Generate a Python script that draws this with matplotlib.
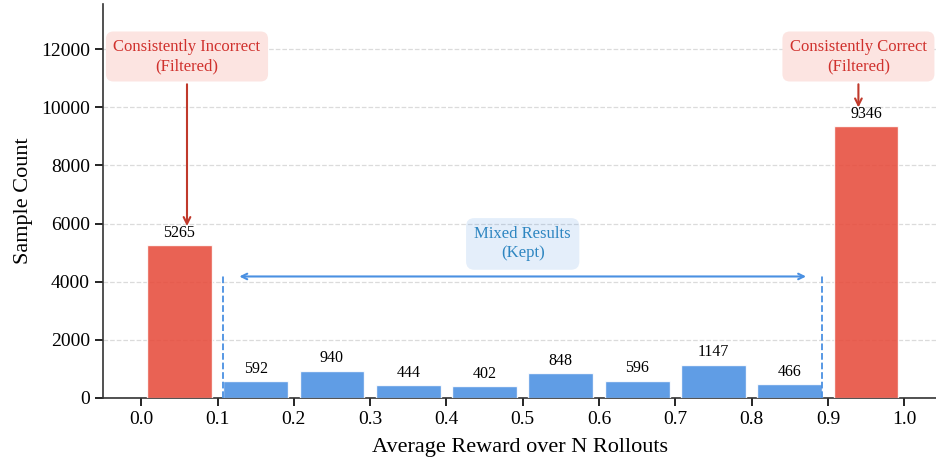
import numpy as np
import matplotlib
matplotlib.use('Agg')
import matplotlib.pyplot as plt

#- Data:

bin_edges = [0.0, 0.1, 0.2, 0.3, 0.4, 0.5, 0.6, 0.7, 0.8, 0.9, 1.0]
counts = [5265, 592, 940, 444, 402, 848, 596, 1147, 466, 9346]
filtered = [True, False, False, False, False, False, False, False, False, True]

plt.rcParams['font.family'] = ['Liberation Serif', 'DejaVu Serif']

red = '#E74C3C'
blue = '#4A90E2'

fig, ax = plt.subplots(figsize=(9.37, 4.59), dpi=100)
fig.subplots_adjust(left=0.11, right=1.0, bottom=0.133, top=0.991)

centers = [(bin_edges[i] + bin_edges[i + 1]) / 2 for i in range(len(counts))]
width = 0.085
colors = [red if f else blue for f in filtered]
bars = ax.bar(centers, counts, width=width, color=colors, alpha=0.88,
              edgecolor='white', linewidth=1, zorder=3)

for b, c in zip(bars, counts):
    ax.annotate(str(c), (b.get_x() + b.get_width() / 2, c),
                xytext=(0, 3), textcoords='offset points',
                ha='center', va='bottom', fontsize=11.5)

ymax = max(counts) * 1.45
ax.set_ylim(0, ymax)
ax.set_xlim(-0.05, 1.043)

#- Mixed region markers:

left_edge = centers[1] - width / 2
right_edge = centers[-2] + width / 2
line_top = counts[0] * 0.8
ax.plot([left_edge, left_edge], [0, line_top], ls='--', color=blue, lw=1.3, zorder=4)
ax.plot([right_edge, right_edge], [0, line_top], ls='--', color=blue, lw=1.3, zorder=4)
ax.annotate('', xy=(0.125, 4180), xytext=(0.875, 4180),
            arrowprops=dict(arrowstyle='<->', color=blue, lw=1.5))
ax.text(0.5, 5300, 'Mixed Results\n(Kept)', ha='center', va='center',
        fontsize=12, color='#2E86C1', linespacing=1.25,
        bbox=dict(boxstyle='round,pad=0.5', facecolor=blue, alpha=0.15,
                  edgecolor='none'))

#- Filtered annotations:

box = dict(boxstyle='round,pad=0.45', facecolor='#FCE4E1', edgecolor='none')
ax.annotate('Consistently Incorrect\n(Filtered)', xy=(0.06, counts[0] + 650),
            xytext=(0.06, 11750), ha='center', va='center', fontsize=12,
            color='#D0312D', bbox=box, linespacing=1.25,
            arrowprops=dict(arrowstyle='->', color='#C0392B', lw=1.5,
                            shrinkB=0))
ax.annotate('Consistently Correct\n(Filtered)', xy=(0.94, counts[-1] + 650),
            xytext=(0.94, 11750), ha='center', va='center', fontsize=12,
            color='#D0312D', bbox=box, linespacing=1.25,
            arrowprops=dict(arrowstyle='->', color='#C0392B', lw=1.5,
                            shrinkB=0))

#- Axes styling:

ax.set_xticks(bin_edges)
ax.set_xticklabels(['%.1f' % v for v in bin_edges])
ax.tick_params(axis='both', labelsize=14, length=6, width=1.2, direction='out')
ax.set_xlabel('Average Reward over N Rollouts', fontsize=16, labelpad=7)
ax.set_ylabel('Sample Count', fontsize=16, labelpad=6)
ax.yaxis.grid(True, ls='--', color='#CCCCCC', alpha=0.7, lw=0.9, zorder=0)
ax.set_axisbelow(True)
ax.spines['top'].set_visible(False)
ax.spines['right'].set_visible(False)
for s in ('left', 'bottom'):
    ax.spines[s].set_linewidth(1.2)
    ax.spines[s].set_color('#333333')

plt.savefig('out.png', dpi=100)
